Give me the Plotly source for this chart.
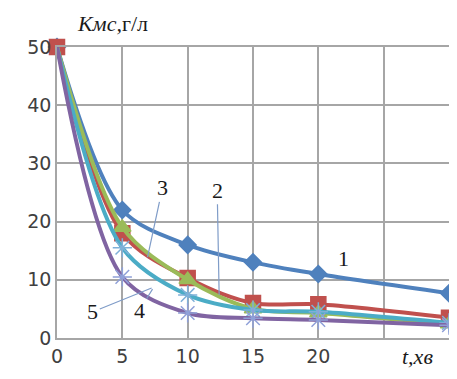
import plotly.graph_objects as go

t = [0, 5, 10, 15, 20, 30]
s1 = [50, 22, 16, 13, 11, 7.7]
s2 = [50, 18, 10.3, 6.0, 5.8, 3.5]
s3 = [50, 19, 10.0, 5.0, 4.3, 2.4]
s4 = [50, 15.5, 7.4, 4.8, 4.5, 2.6]
s5 = [50, 10.5, 4.3, 3.4, 3.1, 2.2]

x_ticks = [0, 5, 10, 15, 20, 25, 30]
x_ticktext = ["0", "5", "10", "15", "20", "", ""]
y_ticks = [0, 10, 20, 30, 40, 50]

series = [
    (s1, "1", "#4F81BD", "diamond", 13, "#4F81BD", True),
    (s2, "2", "#C0504D", "square", 15, "#C0504D", True),
    (s3, "3", "#9BBB59", "triangle-up", 15, "#9BBB59", False),
    (s4, "4", "#4BACC6", "asterisk-open", 16, "#7fb0d8", False),
    (s5, "5", "#8064A2", "asterisk-open", 16, "#8fa0d8", False),
]

fig = go.Figure()
for vals, name, col, sym, sz, mcol, first in series:
    sizes = [sz if (i > 0 or first) else 0 for i in range(len(vals))]
    fig.add_trace(go.Scatter(
        x=t, y=vals, name=name, mode="lines+markers", cliponaxis=False,
        line=dict(color=col, width=4, shape="spline", smoothing=0.9),
        marker=dict(symbol=sym, size=sizes, color=mcol, opacity=1,
                    line=dict(color=mcol, width=1.5)),
        showlegend=False,
    ))

grid = "#a6a6a6"
tickfont = dict(family="DejaVu Sans", size=19, color="#404040")
fig.update_xaxes(range=[0, 30], tickvals=x_ticks, ticktext=x_ticktext,
                 showgrid=True, gridcolor=grid, gridwidth=1.5,
                 showline=True, linecolor=grid, linewidth=1.5, mirror=True,
                 zeroline=False, ticks="", ticklen=0, tickfont=tickfont)
fig.update_yaxes(range=[0, 50], tickvals=y_ticks,
                 showgrid=True, gridcolor=grid, gridwidth=1.5,
                 showline=True, linecolor=grid, linewidth=1.5, mirror=True,
                 zeroline=False, ticks="", ticklen=0, tickfont=tickfont)

serif = dict(family="Liberation Serif", size=22, color="#1a1a1a")
acol = "#7f9cc8"
ann = [
    # text, text x, text y, tip x, tip y
    ("3", 8.07, 25.8, 6.93, 13.9),
    ("2", 12.26, 25.4, 12.41, 7.4),
    ("5", 2.74, 4.5, 7.24, 8.6),
    ("4", 6.32, 4.8, 7.31, 8.4),
]
for txt, tx, ty, px, py in ann:
    fig.add_annotation(x=px, y=py, ax=tx, ay=ty, axref="x", ayref="y",
                       xref="x", yref="y", text=txt, showarrow=True,
                       arrowhead=0, arrowwidth=1.2, arrowcolor=acol,
                       font=serif)
fig.add_annotation(x=21.9, y=13.7, xref="x", yref="y", text="1",
                   showarrow=False, font=serif)
fig.add_annotation(x=0.045, y=1.03, xref="paper", yref="paper",
                   xanchor="left", yanchor="bottom",
                   text="<i>Кмс,</i>г/л", showarrow=False,
                   font=dict(family="Liberation Serif", size=22, color="#1a1a1a"))
fig.add_annotation(x=27.6, y=-0.015, xref="x", yref="paper",
                   text="<i>t,хв</i>", showarrow=False, yanchor="top",
                   font=dict(family="Liberation Serif", size=22, color="#1a1a1a"))

fig.update_layout(width=449, height=371,
                  margin=dict(l=49, r=6, t=39, b=41),
                  paper_bgcolor="white", plot_bgcolor="white")
fig.write_html("out.html")
